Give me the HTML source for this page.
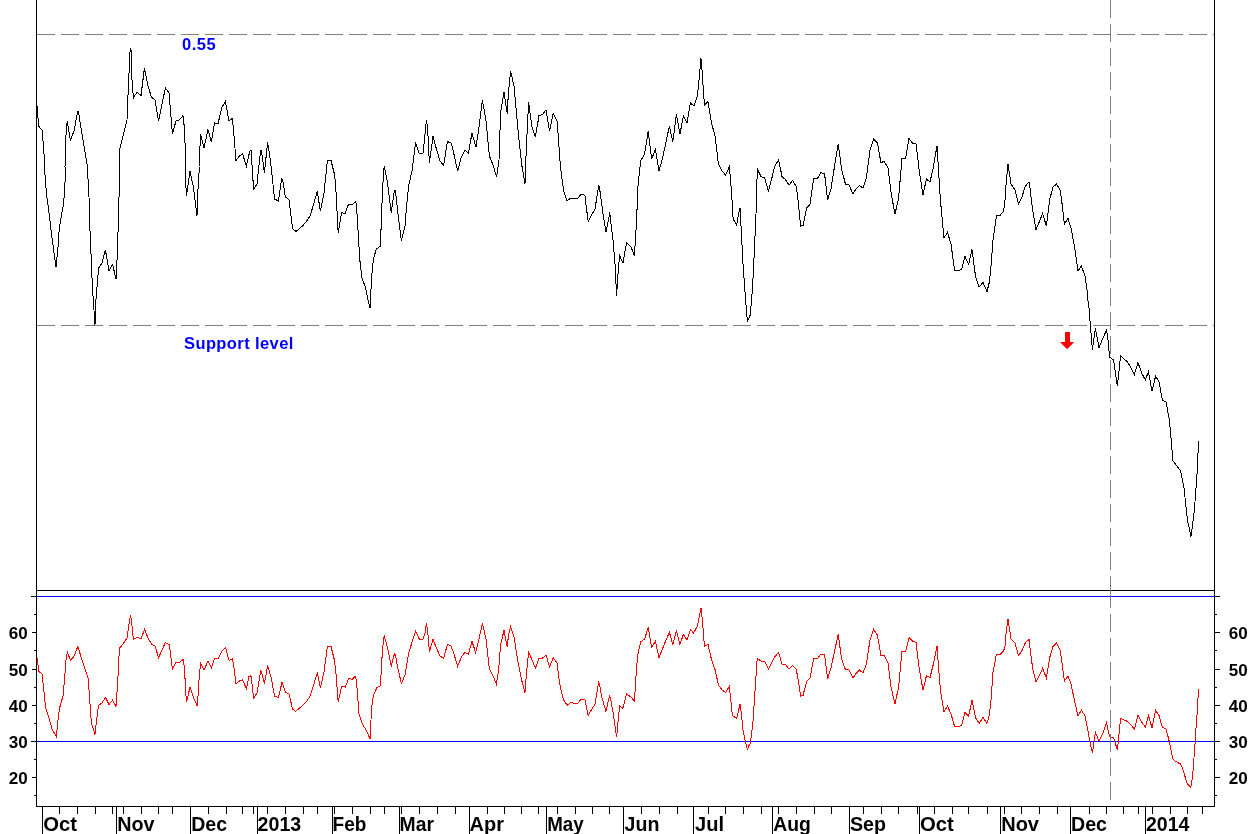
<!DOCTYPE html>
<html><head><meta charset="utf-8"><title>Chart</title>
<style>html,body{margin:0;padding:0;background:#fff;}body{width:1250px;height:834px;overflow:hidden;}</style>
</head><body>
<svg width="1250" height="834" viewBox="0 0 1250 834" style="display:block">
<rect width="1250" height="834" fill="#fff"/>
<g stroke="#808080" stroke-width="1" shape-rendering="crispEdges" stroke-dasharray="18 6">
<line x1="37" y1="34.5" x2="1214" y2="34.5"/>
<line x1="37" y1="325.5" x2="1214" y2="325.5"/>
</g>
<g stroke="#000" stroke-width="1" shape-rendering="crispEdges">
<line x1="36.5" y1="0" x2="36.5" y2="807"/>
<line x1="1214.5" y1="0" x2="1214.5" y2="807"/>
<line x1="36" y1="806.5" x2="1215" y2="806.5"/>
<line x1="36" y1="590.5" x2="1215" y2="590.5"/>
<line x1="31" y1="596.5" x2="36" y2="596.5"/><line x1="1215" y1="596.5" x2="1220" y2="596.5"/>
<line x1="32" y1="632.5" x2="36" y2="632.5"/><line x1="1215" y1="632.5" x2="1220" y2="632.5"/>
<line x1="32" y1="669.5" x2="36" y2="669.5"/><line x1="1215" y1="669.5" x2="1220" y2="669.5"/>
<line x1="32" y1="705.5" x2="36" y2="705.5"/><line x1="1215" y1="705.5" x2="1220" y2="705.5"/>
<line x1="31" y1="741.5" x2="36" y2="741.5"/><line x1="1215" y1="741.5" x2="1220" y2="741.5"/>
<line x1="32" y1="777.5" x2="36" y2="777.5"/><line x1="1215" y1="777.5" x2="1220" y2="777.5"/>
<line x1="34" y1="614.5" x2="36" y2="614.5"/><line x1="1215" y1="614.5" x2="1217" y2="614.5"/>
<line x1="34" y1="650.5" x2="36" y2="650.5"/><line x1="1215" y1="650.5" x2="1217" y2="650.5"/>
<line x1="34" y1="687.5" x2="36" y2="687.5"/><line x1="1215" y1="687.5" x2="1217" y2="687.5"/>
<line x1="34" y1="723.5" x2="36" y2="723.5"/><line x1="1215" y1="723.5" x2="1217" y2="723.5"/>
<line x1="34" y1="759.5" x2="36" y2="759.5"/><line x1="1215" y1="759.5" x2="1217" y2="759.5"/>
<line x1="34" y1="795.5" x2="36" y2="795.5"/><line x1="1215" y1="795.5" x2="1217" y2="795.5"/>
<line x1="42.5" y1="807" x2="42.5" y2="834"/>
<line x1="116.5" y1="807" x2="116.5" y2="834"/>
<line x1="190.5" y1="807" x2="190.5" y2="834"/>
<line x1="257.5" y1="807" x2="257.5" y2="834"/>
<line x1="332.5" y1="807" x2="332.5" y2="834"/>
<line x1="399.5" y1="807" x2="399.5" y2="834"/>
<line x1="469.5" y1="807" x2="469.5" y2="834"/>
<line x1="546.5" y1="807" x2="546.5" y2="834"/>
<line x1="623.5" y1="807" x2="623.5" y2="834"/>
<line x1="693.5" y1="807" x2="693.5" y2="834"/>
<line x1="772.5" y1="807" x2="772.5" y2="834"/>
<line x1="849.5" y1="807" x2="849.5" y2="834"/>
<line x1="919.5" y1="807" x2="919.5" y2="834"/>
<line x1="1000.5" y1="807" x2="1000.5" y2="834"/>
<line x1="1070.5" y1="807" x2="1070.5" y2="834"/>
<line x1="1145.5" y1="807" x2="1145.5" y2="834"/>
<line x1="59.5" y1="807" x2="59.5" y2="814"/>
<line x1="77.5" y1="807" x2="77.5" y2="814"/>
<line x1="95.5" y1="807" x2="95.5" y2="814"/>
<line x1="112.5" y1="807" x2="112.5" y2="814"/>
<line x1="123.5" y1="807" x2="123.5" y2="814"/>
<line x1="141.5" y1="807" x2="141.5" y2="814"/>
<line x1="158.5" y1="807" x2="158.5" y2="814"/>
<line x1="172.5" y1="807" x2="172.5" y2="814"/>
<line x1="208.5" y1="807" x2="208.5" y2="814"/>
<line x1="226.5" y1="807" x2="226.5" y2="814"/>
<line x1="242.5" y1="807" x2="242.5" y2="814"/>
<line x1="253.5" y1="807" x2="253.5" y2="814"/>
<line x1="267.5" y1="807" x2="267.5" y2="814"/>
<line x1="285.5" y1="807" x2="285.5" y2="814"/>
<line x1="303.5" y1="807" x2="303.5" y2="814"/>
<line x1="317.5" y1="807" x2="317.5" y2="814"/>
<line x1="334.5" y1="807" x2="334.5" y2="814"/>
<line x1="352.5" y1="807" x2="352.5" y2="814"/>
<line x1="370.5" y1="807" x2="370.5" y2="814"/>
<line x1="384.5" y1="807" x2="384.5" y2="814"/>
<line x1="401.5" y1="807" x2="401.5" y2="814"/>
<line x1="419.5" y1="807" x2="419.5" y2="814"/>
<line x1="437.5" y1="807" x2="437.5" y2="814"/>
<line x1="455.5" y1="807" x2="455.5" y2="814"/>
<line x1="487.5" y1="807" x2="487.5" y2="814"/>
<line x1="504.5" y1="807" x2="504.5" y2="814"/>
<line x1="521.5" y1="807" x2="521.5" y2="814"/>
<line x1="538.5" y1="807" x2="538.5" y2="814"/>
<line x1="557.5" y1="807" x2="557.5" y2="814"/>
<line x1="575.5" y1="807" x2="575.5" y2="814"/>
<line x1="592.5" y1="807" x2="592.5" y2="814"/>
<line x1="609.5" y1="807" x2="609.5" y2="814"/>
<line x1="641.5" y1="807" x2="641.5" y2="814"/>
<line x1="659.5" y1="807" x2="659.5" y2="814"/>
<line x1="677.5" y1="807" x2="677.5" y2="814"/>
<line x1="708.5" y1="807" x2="708.5" y2="814"/>
<line x1="725.5" y1="807" x2="725.5" y2="814"/>
<line x1="743.5" y1="807" x2="743.5" y2="814"/>
<line x1="761.5" y1="807" x2="761.5" y2="814"/>
<line x1="778.5" y1="807" x2="778.5" y2="814"/>
<line x1="796.5" y1="807" x2="796.5" y2="814"/>
<line x1="814.5" y1="807" x2="814.5" y2="814"/>
<line x1="831.5" y1="807" x2="831.5" y2="814"/>
<line x1="863.5" y1="807" x2="863.5" y2="814"/>
<line x1="881.5" y1="807" x2="881.5" y2="814"/>
<line x1="898.5" y1="807" x2="898.5" y2="814"/>
<line x1="917.5" y1="807" x2="917.5" y2="814"/>
<line x1="934.5" y1="807" x2="934.5" y2="814"/>
<line x1="952.5" y1="807" x2="952.5" y2="814"/>
<line x1="968.5" y1="807" x2="968.5" y2="814"/>
<line x1="987.5" y1="807" x2="987.5" y2="814"/>
<line x1="1004.5" y1="807" x2="1004.5" y2="814"/>
<line x1="1021.5" y1="807" x2="1021.5" y2="814"/>
<line x1="1039.5" y1="807" x2="1039.5" y2="814"/>
<line x1="1057.5" y1="807" x2="1057.5" y2="814"/>
<line x1="1089.5" y1="807" x2="1089.5" y2="814"/>
<line x1="1106.5" y1="807" x2="1106.5" y2="814"/>
<line x1="1123.5" y1="807" x2="1123.5" y2="814"/>
<line x1="1138.5" y1="807" x2="1138.5" y2="814"/>
<line x1="1152.5" y1="807" x2="1152.5" y2="814"/>
<line x1="1170.5" y1="807" x2="1170.5" y2="814"/>
<line x1="1187.5" y1="807" x2="1187.5" y2="814"/>
<line x1="1202.5" y1="807" x2="1202.5" y2="814"/>
</g>
<g stroke="#0000ff" stroke-width="1" shape-rendering="crispEdges">
<line x1="37" y1="596.5" x2="1214" y2="596.5"/>
<line x1="37" y1="741.5" x2="1214" y2="741.5"/>
</g>
<g shape-rendering="crispEdges">
<polyline points="36.6,106.0 37.4,106.0 38.4,126.0 42.0,130.0 43.6,148.0 45.0,166.8" fill="none" stroke="#000" stroke-width="1"/>
<polyline points="65.0,166.8 65.6,148.0 66.4,124.0 67.4,122.0 70.4,140.0 74.0,131.0 77.8,111.0 78.4,111.0 81.0,128.0 84.0,146.0 87.4,166.8" fill="none" stroke="#000" stroke-width="1"/>
<polyline points="119.2,166.8 119.6,150.0 123.0,136.0 127.0,120.0 128.4,86.0 130.2,48.0 131.0,50.0 132.0,80.0 133.4,98.0 137.0,92.0 141.0,95.6 144.4,68.4 148.0,86.0 151.4,97.0 155.0,100.0 158.6,121.0 162.0,104.0 165.4,88.0 169.0,93.0 172.4,134.0 176.0,121.0 179.4,120.0 183.0,115.6 184.4,128.0 186.0,166.8" fill="none" stroke="#000" stroke-width="1"/>
<polyline points="199.0,166.8 200.6,134.4 204.0,148.0 208.0,129.6 211.4,142.0 214.6,123.0 218.0,124.0 221.6,108.0 225.4,101.6 229.0,121.0 232.4,118.4 234.0,136.0 236.0,160.6 239.4,156.0 242.6,154.0 246.4,166.0 249.8,151.0" fill="none" stroke="#000" stroke-width="1"/>
<polyline points="44.4,167.0 46.4,193.0 49.0,213.0 52.4,241.0 56.0,267.0 58.0,247.0 59.4,227.0 63.0,207.0 64.6,193.0 65.6,167.0" fill="none" stroke="#000" stroke-width="1"/>
<polyline points="87.4,167.0 89.0,197.0 90.0,231.0 91.4,263.0 92.4,287.0 95.0,325.0 96.0,299.0 97.4,283.0 98.6,268.0 102.0,263.0 105.4,250.0 109.0,270.6 112.6,264.4 116.0,279.0 117.4,253.0 118.4,219.0 119.4,183.0 120.0,167.0" fill="none" stroke="#000" stroke-width="1"/>
<polyline points="185.0,167.0 186.4,196.0 190.0,171.4 193.4,187.0 197.0,216.0 198.4,179.0 199.6,167.0" fill="none" stroke="#000" stroke-width="1"/>
<polyline points="250.0,150.0 251.0,150.0 253.6,189.4 257.0,184.0 260.6,150.0 261.4,150.0 264.4,173.0 267.6,142.4 269.6,154.0 271.2,168.0 274.6,199.0 278.4,201.0 281.6,179.0 282.6,179.6 285.4,197.0 289.0,199.6 292.6,228.4 296.0,231.6 299.6,228.4 303.0,225.6 306.6,221.0 310.0,216.0 313.6,204.4 317.2,191.4 320.4,211.0 324.0,193.0 327.4,160.4 331.0,160.4 334.4,174.0 335.6,184.0 338.2,233.0 341.6,212.4 345.0,214.0 348.4,204.4 352.0,205.0 355.4,201.4 356.4,204.0 358.0,230.0 359.6,256.8" fill="none" stroke="#000" stroke-width="1"/>
<polyline points="374.0,256.8 376.4,249.0 380.4,246.0 381.6,214.0 382.6,188.0 384.2,165.6 387.4,182.0 391.2,213.0 394.4,190.0 395.4,190.4 398.0,214.0 401.4,241.0 405.0,226.0 406.6,206.0 408.6,186.0 412.0,171.0 415.6,142.4 419.2,153.6 423.0,153.6 426.4,120.4 427.6,128.0 429.4,163.0 433.0,136.4 436.4,149.0 440.0,161.0 443.6,165.6 447.4,141.6 451.0,143.0 452.6,148.0 457.6,171.0 461.4,157.0 465.0,150.0 468.4,153.0 472.0,133.0 476.0,147.0 479.0,127.0 482.4,100.0 486.0,121.0 489.4,156.0 493.0,165.0 496.6,177.0 499.0,160.0 500.0,130.0" fill="none" stroke="#000" stroke-width="1"/>
<polyline points="359.6,256.8 359.6,258.0 362.0,278.0 365.6,288.0 368.0,300.0 370.2,308.4 371.4,280.0 372.6,266.0 374.0,256.8" fill="none" stroke="#000" stroke-width="1"/>
<polyline points="500.0,130.0 501.0,110.0 504.0,92.4 507.2,113.6 508.4,93.0 510.6,71.0 514.0,86.0 518.0,130.0 521.6,164.0 525.0,184.0 526.4,146.0 527.6,122.0 528.6,102.4 532.0,127.0 535.4,137.0 539.0,115.6 542.6,114.4 546.0,110.0 549.6,131.0 553.2,113.6 557.0,121.0 558.4,138.0 560.4,166.0 563.6,191.0 567.2,201.0 570.6,198.0 574.4,198.0 578.0,198.0 581.4,194.0 585.0,195.6 586.4,208.0 587.6,216.8" fill="none" stroke="#000" stroke-width="1"/>
<polyline points="590.4,216.8 595.0,209.0 598.6,186.0 599.4,187.0 602.0,206.0 603.4,216.8" fill="none" stroke="#000" stroke-width="1"/>
<polyline points="609.0,216.8 609.8,212.0 610.2,216.8" fill="none" stroke="#000" stroke-width="1"/>
<polyline points="636.8,216.8 637.6,190.0 640.6,161.0 644.6,154.0 648.2,131.0 651.6,159.0 655.4,149.4 659.0,171.0 662.4,159.0 666.0,142.0 669.4,126.0 672.8,142.0 676.4,114.4 680.0,134.0 683.4,115.6 687.0,123.0 690.4,103.0 694.0,106.0 697.4,96.0 699.0,80.0 701.0,58.4 702.0,70.0 704.4,105.0 708.0,101.6 711.6,123.0 715.2,137.0 718.4,164.0 722.0,171.0 725.6,175.0 729.2,167.0 730.4,178.0 732.0,200.0 733.0,216.8" fill="none" stroke="#000" stroke-width="1"/>
<polyline points="738.0,216.8 740.0,208.0 740.6,216.8" fill="none" stroke="#000" stroke-width="1"/>
<polyline points="587.6,217.0 588.2,221.6 590.4,217.0" fill="none" stroke="#000" stroke-width="1"/>
<polyline points="603.4,217.0 606.0,231.6 609.0,217.0" fill="none" stroke="#000" stroke-width="1"/>
<polyline points="610.2,217.0 613.0,240.0 615.0,264.0 616.6,295.6 618.0,274.0 619.6,255.6 623.0,263.0 626.6,242.4 631.0,247.0 634.4,255.6 636.0,230.0 636.8,217.0" fill="none" stroke="#000" stroke-width="1"/>
<polyline points="733.0,217.0 733.2,219.0 736.6,225.0 738.0,217.0" fill="none" stroke="#000" stroke-width="1"/>
<polyline points="740.6,217.0 741.0,226.0 743.0,264.0 745.0,292.0 747.4,321.8 750.2,315.0" fill="none" stroke="#000" stroke-width="1"/>
<polyline points="750.2,315.0 751.8,297.0 752.8,282.0 754.4,250.0 756.0,214.0 756.6,186.0 757.6,169.6 761.0,176.4 764.6,178.0 768.4,191.0 771.4,180.0 774.6,167.0 778.6,159.6 782.0,176.4 785.4,179.6 789.0,185.0 792.6,180.4 796.0,186.0 797.6,196.0 800.6,226.0 803.0,225.6 806.6,208.0 810.0,204.4 813.6,178.4 817.2,179.0 821.0,172.4 824.6,174.0 827.6,200.0 831.0,189.0 834.4,167.0 838.2,143.6 841.6,169.0 845.4,184.0 849.0,185.0 853.0,194.0 856.0,189.0 859.4,185.4 863.0,188.0 866.4,178.0 870.0,150.0 873.6,139.0 877.4,143.0 881.0,163.0 884.0,161.0 888.0,168.0 891.2,194.0 895.0,214.0 898.6,198.0 902.0,158.4 905.6,158.0 909.0,138.4 912.4,143.0 916.0,143.6 919.4,172.0 923.0,195.0 926.4,179.0 930.0,182.0 933.4,167.0 937.0,145.6 938.0,162.0 940.4,200.0 944.0,238.0 947.4,232.4 951.0,244.0 954.6,270.6 958.0,270.6 961.6,269.6 965.0,256.4 968.6,264.4 972.0,249.6 975.6,277.0 979.2,287.0 983.0,282.4 987.0,291.6 989.4,282.0 991.0,266.0 993.0,240.0 996.4,216.0 1000.0,215.0" fill="none" stroke="#000" stroke-width="1"/>
<polyline points="1000.0,215.6 1003.6,211.0 1005.0,200.0 1006.4,180.0 1008.0,164.0 1011.0,184.0 1015.0,190.0 1018.4,204.0 1021.6,198.0 1025.2,186.4 1029.0,182.0 1030.0,188.0 1032.6,210.0 1036.0,229.6 1039.2,222.0 1042.6,213.6 1046.4,226.0 1049.6,200.0 1053.0,187.0 1056.6,184.0 1060.0,190.0 1061.6,200.0 1064.4,224.0 1068.0,218.4 1071.0,228.0 1074.4,246.0 1078.0,271.0 1081.4,266.0 1085.0,276.0 1087.0,290.0 1088.6,306.8" fill="none" stroke="#000" stroke-width="1"/>
<polyline points="1088.6,306.8 1089.0,308.0 1090.4,326.0 1092.4,349.6 1095.4,328.4 1099.0,347.6 1102.6,339.0 1106.6,330.0 1108.0,340.0 1109.6,357.0 1113.6,360.0 1117.4,386.4 1120.6,355.4 1124.0,359.0 1127.4,361.6 1131.0,368.0 1134.4,374.4 1138.0,362.6 1141.6,373.0 1145.4,380.0 1148.4,371.6 1152.0,391.0 1155.6,376.0 1159.0,382.0 1162.4,400.0 1166.0,402.0 1169.4,420.0 1173.0,461.0" fill="none" stroke="#000" stroke-width="1"/>
<polyline points="1173.0,461.0 1177.0,466.0 1180.6,471.0 1184.0,488.0 1187.4,520.0 1191.0,536.4 1194.4,510.0 1196.0,488.0 1197.6,466.0 1198.4,441.0" fill="none" stroke="#000" stroke-width="1"/>
<polyline points="36.6,658.0 37.6,658.4 38.4,671.0 42.0,674.0 43.6,688.0 45.6,708.0 49.0,718.0 52.4,730.0 56.4,736.4 58.0,720.0 59.6,708.0 63.0,696.0 64.6,678.0 66.0,660.0 67.4,652.0 70.4,660.4 74.0,656.4 77.6,647.0 78.4,647.6 81.0,657.0 84.0,666.0 88.2,679.0 89.6,698.0 91.4,723.0 95.0,734.4 96.6,720.0 98.4,705.6 102.0,703.0 105.4,697.4 109.0,704.4 112.6,700.0 116.0,706.4 117.6,684.0 119.4,648.4 123.0,644.0 127.0,638.0 128.4,628.0 130.4,615.6 131.4,620.0 133.4,639.6 137.0,637.4 141.0,638.6 144.6,629.4 148.0,638.0 151.4,644.0 155.0,646.0 158.6,657.6 162.0,650.0 165.4,642.4 169.4,645.0 172.4,669.4 176.0,662.4 179.4,662.4 183.2,659.4 184.4,668.0 186.4,702.4 190.0,687.4 193.6,698.0 197.4,706.4 199.0,680.0 200.6,663.0 204.0,670.0 208.0,661.0 211.4,667.4 214.6,658.4 218.4,658.4 222.0,651.0 225.6,647.4 229.0,660.4 232.4,658.6 234.0,668.0 236.0,684.0 239.4,681.0 242.6,680.0 246.4,688.6 249.0,676.0 250.0,677.0" fill="none" stroke="#ff0000" stroke-width="1"/>
<polyline points="250.0,677.0 251.0,675.6 253.6,698.4 257.0,693.0 260.6,671.0 261.4,671.6 264.4,684.0 267.6,665.4 271.0,677.0 274.6,696.4 278.4,697.4 282.0,682.4 285.4,692.0 289.0,694.0 292.6,709.0 295.6,711.4 299.6,708.0 303.0,705.0 306.6,701.4 310.0,696.4 313.6,685.0 317.4,672.4 320.4,688.0 324.0,672.0 327.4,646.4 331.0,646.4 334.4,660.0 336.0,674.0 338.2,702.0 341.6,686.4 345.4,687.0 348.6,678.4 352.0,679.4 355.4,676.4 356.4,680.0 359.0,714.0 361.6,722.0 363.6,726.0 367.0,731.6 370.0,739.0 371.2,716.0 372.4,700.0 374.0,694.0 377.0,687.4 380.4,685.6 381.6,664.0 382.6,648.0 384.2,635.6 387.6,648.0 391.2,666.4 394.4,654.0 395.4,655.0 398.0,669.0 401.4,683.4 405.0,675.0 408.6,653.0 412.0,642.4 415.6,631.0 419.2,639.0 423.0,639.4 425.0,633.0 426.4,623.4 427.6,630.0 429.4,652.0 433.0,639.4 436.4,648.0 440.0,656.0 443.6,658.4 447.4,644.4 451.0,646.0 454.0,654.0 457.6,666.4 461.4,657.0 465.0,652.4 468.4,654.0 472.0,641.4 475.6,652.4 479.0,639.0 482.4,623.4 486.0,639.0 489.4,669.0 493.0,676.0 496.4,684.0 498.6,670.0 500.0,652.0" fill="none" stroke="#ff0000" stroke-width="1"/>
<polyline points="500.0,652.0 501.0,643.0 504.0,630.4 507.2,647.0 508.4,636.0 510.6,626.4 514.0,637.0 518.0,662.0 521.6,680.0 525.0,692.4 526.4,674.0 528.6,651.6 532.0,660.0 535.4,668.0 539.0,658.6 542.6,658.0 546.0,655.0 549.6,667.0 553.2,657.6 557.0,663.0 558.6,676.0 560.4,688.0 563.6,700.0 567.2,705.4 570.6,702.4 574.4,703.4 578.0,703.0 581.4,699.0 585.0,700.0 588.2,715.4 591.6,709.4 595.0,704.4 598.6,682.4 599.4,684.0 602.0,698.0 606.0,711.4 609.6,695.0 610.6,699.0 613.0,712.0 616.6,737.4 618.0,722.0 619.6,705.6 623.0,708.4 626.6,694.0 631.0,697.0 634.4,701.4 636.0,676.0 637.6,656.0 640.6,642.0 644.6,639.0 648.2,627.4 651.6,647.0 655.4,641.4 659.0,657.6 662.4,649.0 666.0,640.0 669.4,632.4 672.8,644.4 676.4,630.4 680.0,644.4 683.4,634.4 687.0,640.0 690.4,629.4 693.6,633.0 697.4,626.0 699.0,618.0 701.0,608.4 702.4,620.0 704.4,646.4 708.0,644.4 711.6,660.0 715.2,670.0 718.4,685.0 722.0,690.0 725.6,692.4 729.2,686.4 730.4,696.0 732.4,715.4 736.6,718.4 740.0,704.4 741.4,714.0 743.0,730.0 745.0,740.0 747.4,749.0 749.0,745.6 750.0,744.0" fill="none" stroke="#ff0000" stroke-width="1"/>
<polyline points="750.0,744.0 751.0,738.0 752.8,724.0 754.4,700.0 756.0,676.0 757.2,658.4 761.0,661.0 764.6,661.4 768.4,669.0 771.4,663.0 774.6,657.0 778.6,652.4 782.0,664.0 785.4,664.4 789.0,669.0 792.6,665.6 796.0,669.0 797.6,676.0 800.6,696.0 803.0,695.6 806.6,681.4 810.0,678.4 813.6,658.4 817.2,659.0 821.0,654.0 824.6,655.0 827.6,679.0 831.0,668.0 834.4,652.0 838.2,634.4 841.6,659.0 845.4,669.6 849.0,670.0 853.0,678.0 856.0,673.4 859.4,670.0 863.0,673.0 866.4,664.0 870.0,640.0 873.6,629.4 877.4,635.0 881.0,655.6 884.0,655.0 888.0,663.0 891.2,688.0 895.0,704.0 898.6,687.0 902.0,651.0 905.6,651.6 909.0,637.6 912.4,641.0 916.0,642.4 919.4,670.0 923.0,690.0 926.4,676.0 930.0,677.6 933.4,664.0 937.0,645.6 938.0,660.0 940.4,690.0 944.0,712.0 947.4,706.0 951.0,714.0 954.6,726.6 958.0,726.4 961.6,725.6 965.0,712.4 968.6,716.0 972.0,700.4 975.6,718.0 979.2,723.4 983.0,717.6 987.0,723.4 989.4,715.0 991.0,700.0 993.0,672.0 996.4,654.4 1000.0,654.0" fill="none" stroke="#ff0000" stroke-width="1"/>
<polyline points="1000.0,654.4 1003.6,651.0 1005.0,646.0 1006.4,630.0 1008.0,619.0 1011.0,639.0 1015.0,643.0 1018.4,655.4 1021.6,651.6 1025.2,643.0 1029.0,639.4 1030.0,648.0 1032.6,668.0 1036.0,682.0 1039.2,675.6 1042.6,668.4 1046.4,678.0 1049.6,658.0 1053.0,646.4 1056.6,643.0 1060.0,650.0 1061.6,660.0 1064.4,681.0 1068.0,676.0 1071.0,684.0 1074.4,700.0 1078.0,716.0 1081.4,710.0 1085.0,716.0 1087.0,726.0 1090.4,744.0 1092.4,753.0 1095.4,732.4 1099.0,741.0 1102.6,734.0 1106.6,722.4 1108.0,730.0 1109.6,736.6 1113.6,737.6 1117.4,750.0 1120.6,718.4 1124.0,720.0 1127.4,721.4 1131.0,725.0 1134.4,729.0 1138.0,715.4 1141.6,722.0 1145.4,727.0 1148.4,715.4 1152.0,728.0 1155.6,710.4 1159.0,715.4 1162.4,727.6 1166.0,728.6 1169.4,742.0 1173.0,759.4 1177.4,762.4 1180.6,764.0 1182.0,766.8" fill="none" stroke="#ff0000" stroke-width="1"/>
<polyline points="1193.0,766.8 1194.4,754.0 1196.0,728.0 1197.6,708.0 1198.4,689.0" fill="none" stroke="#ff0000" stroke-width="1"/>
<polyline points="1182.0,766.8 1183.6,771.6 1186.8,782.8 1190.8,787.9 1192.4,777.2 1193.5,766.8" fill="none" stroke="#ff0000" stroke-width="1"/>
</g>
<g stroke="#808080" stroke-width="1" shape-rendering="crispEdges" stroke-dasharray="18 6"><line x1="1110.5" y1="0" x2="1110.5" y2="590"/><line x1="1110.5" y1="590" x2="1110.5" y2="800"/></g>
<path d="M1065 332h5v10h4.2l-7.1 7.2l-7.1-7.2h5z" fill="#ff0000"/>
<g font-family="'Liberation Sans', Arial, sans-serif" font-weight="bold">
<text x="182" y="50" font-size="16.5" fill="#0000ff" letter-spacing="0.5">0.55</text>
<text x="184" y="349" font-size="16.5" fill="#0000ff" letter-spacing="0.4">Support level</text>
<text x="8.8" y="638.6" font-size="17" fill="#000">60</text>
<text x="1228.8" y="638.6" font-size="17" fill="#000">60</text>
<text x="8.8" y="675.6" font-size="17" fill="#000">50</text>
<text x="1228.8" y="675.6" font-size="17" fill="#000">50</text>
<text x="8.8" y="711.6" font-size="17" fill="#000">40</text>
<text x="1228.8" y="711.6" font-size="17" fill="#000">40</text>
<text x="8.8" y="747.6" font-size="17" fill="#000">30</text>
<text x="1228.8" y="747.6" font-size="17" fill="#000">30</text>
<text x="8.8" y="783.6" font-size="17" fill="#000">20</text>
<text x="1228.8" y="783.6" font-size="17" fill="#000">20</text>
<text x="43.2" y="831.3" font-size="20" fill="#000" textLength="33.8" lengthAdjust="spacingAndGlyphs">Oct</text>
<text x="117.2" y="831.3" font-size="20" fill="#000" textLength="37.4" lengthAdjust="spacingAndGlyphs">Nov</text>
<text x="191.2" y="831.3" font-size="20" fill="#000" textLength="35.8" lengthAdjust="spacingAndGlyphs">Dec</text>
<text x="257.6" y="831.3" font-size="20" fill="#000" textLength="43.6" lengthAdjust="spacingAndGlyphs">2013</text>
<text x="332.6" y="831.3" font-size="20" fill="#000" textLength="33.8" lengthAdjust="spacingAndGlyphs">Feb</text>
<text x="399.6" y="831.3" font-size="20" fill="#000" textLength="34.4" lengthAdjust="spacingAndGlyphs">Mar</text>
<text x="469.6" y="831.3" font-size="20" fill="#000" textLength="34.4" lengthAdjust="spacingAndGlyphs">Apr</text>
<text x="547.2" y="831.3" font-size="20" fill="#000" textLength="36.4" lengthAdjust="spacingAndGlyphs">May</text>
<text x="624.6" y="831.3" font-size="20" fill="#000" textLength="34.8" lengthAdjust="spacingAndGlyphs">Jun</text>
<text x="695.0" y="831.3" font-size="20" fill="#000" textLength="29.0" lengthAdjust="spacingAndGlyphs">Jul</text>
<text x="773.2" y="831.3" font-size="20" fill="#000" textLength="37.6" lengthAdjust="spacingAndGlyphs">Aug</text>
<text x="850.0" y="831.3" font-size="20" fill="#000" textLength="36" lengthAdjust="spacingAndGlyphs">Sep</text>
<text x="920.0" y="831.3" font-size="20" fill="#000" textLength="33.8" lengthAdjust="spacingAndGlyphs">Oct</text>
<text x="1001.2" y="831.3" font-size="20" fill="#000" textLength="37.8" lengthAdjust="spacingAndGlyphs">Nov</text>
<text x="1071.0" y="831.3" font-size="20" fill="#000" textLength="36" lengthAdjust="spacingAndGlyphs">Dec</text>
<text x="1146.0" y="831.3" font-size="20" fill="#000" textLength="43.4" lengthAdjust="spacingAndGlyphs">2014</text>
</g>
</svg>
</body></html>
